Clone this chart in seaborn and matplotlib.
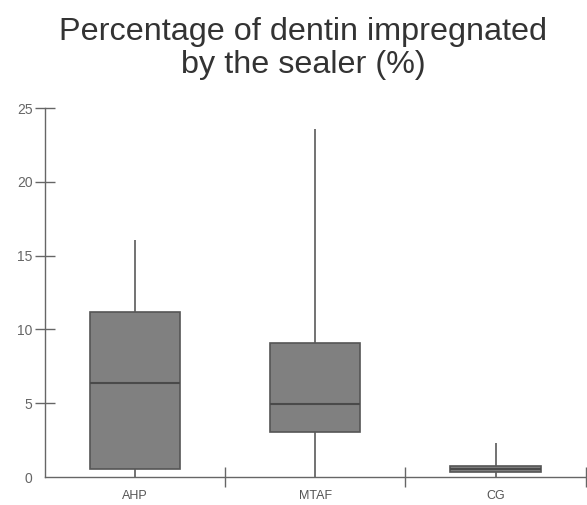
import matplotlib
matplotlib.use("Agg")
import matplotlib.pyplot as plt
import seaborn as sns
import pandas as pd
import numpy as np

categories = ["AHP", "MTAF", "CG"]
# five-number summaries: min, q1, median, q3, max
ahp = [0.0, 0.54, 6.37, 11.18, 16.06]
mtaf = [0.0, 3.05, 4.95, 9.08, 23.6]
cg = [0.0, 0.34, 0.52, 0.75, 2.3]
yticks = [0, 5, 10, 15, 20, 25]

df = pd.DataFrame({
    "group": np.repeat(categories, 5),
    "value": ahp + mtaf + cg,
})

sns.set_theme(style="white")
plt.rcParams["font.family"] = ["Liberation Sans", "DejaVu Sans"]

fig = plt.figure(figsize=(5.87, 5.05), dpi=100)
ax = fig.add_axes([0.0767, 0.0554, 0.921, 0.7307])

line_c = "#5a5a5a"
sns.boxplot(data=df, x="group", y="value", order=categories, whis=(0, 100),
            width=0.5, color="#808080", saturation=1, linewidth=1.2,
            showcaps=False, showfliers=False,
            boxprops=dict(facecolor="#808080", edgecolor="#555555"),
            medianprops=dict(color="#4a4a4a", linewidth=1.5),
            whiskerprops=dict(color=line_c), ax=ax)

ax.set_xlim(-0.5, 2.5)
ax.set_ylim(0, 25)
ax.set_yticks(yticks)
ax.set_yticklabels([str(t) for t in yticks])
ax.set_xlabel("")
ax.set_ylabel("")
for s in ["top", "right"]:
    ax.spines[s].set_visible(False)
for s in ["left", "bottom"]:
    ax.spines[s].set_color("#666666")
    ax.spines[s].set_linewidth(1.0)

ax.tick_params(axis="y", which="major", direction="inout", length=14, width=1,
               color="#666666", labelcolor="#666666", labelsize=10, pad=2, left=True)
ax.tick_params(axis="x", which="major", length=0, labelcolor="#555555",
               labelsize=9, pad=9)
ax.set_xticks([0.5, 1.5, 2.5], minor=True)
ax.tick_params(axis="x", which="minor", direction="inout", length=14, width=1,
               color="#666666", bottom=True)
# hide the 0 tick mark, keep label
ax.yaxis.get_major_ticks()[0].tick1line.set_visible(False)

fig.suptitle("Percentage of dentin impregnated\nby the sealer (%)", x=0.517, y=0.966,
             fontsize=23.3, color="#333333", linespacing=1.12, va="top")

fig.savefig("out.png", dpi=100)
